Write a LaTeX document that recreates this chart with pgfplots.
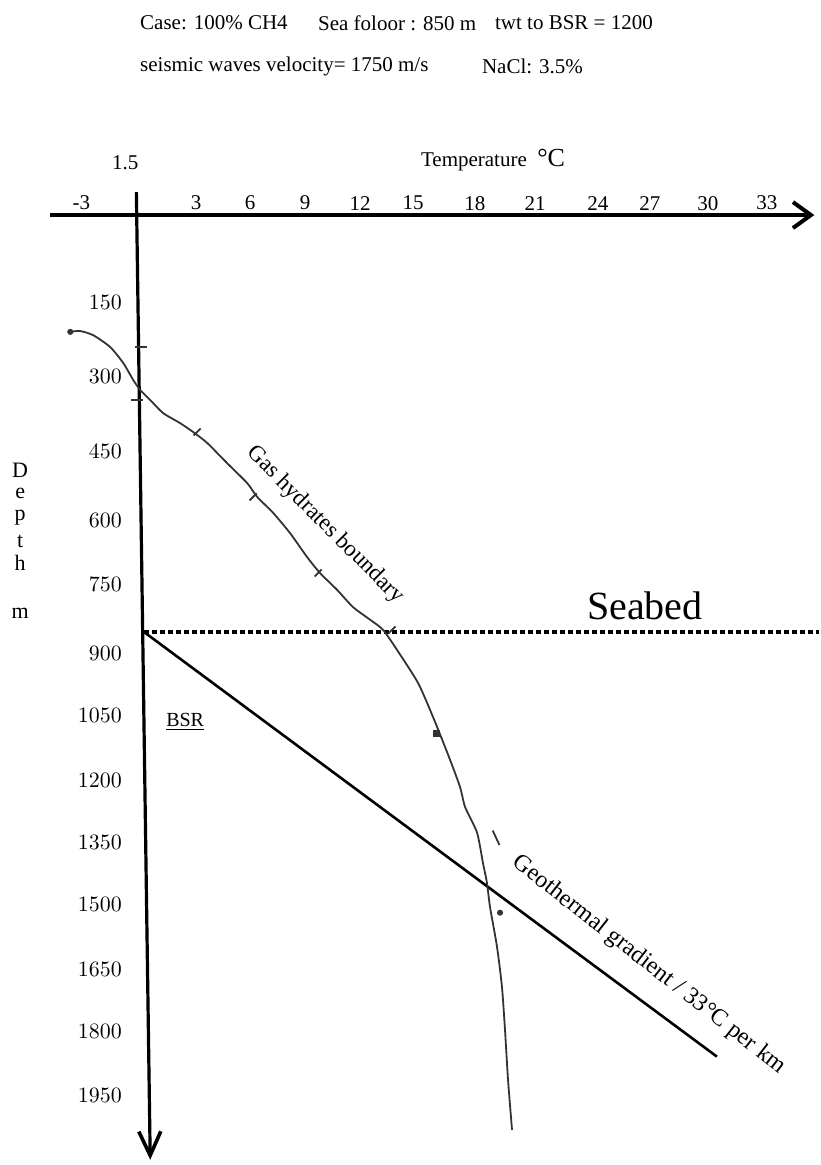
\documentclass[border=0pt]{standalone}
\usepackage{fontspec}
\setmainfont{Liberation Serif}
\usepackage{pgfplots}
\pgfplotsset{compat=1.18}
\usetikzlibrary{arrows.meta}

\begin{document}
\begin{tikzpicture}
\begin{axis}[
  scale only axis, width=409.5pt, height=582.5pt,
  xmin=-7.37, xmax=35.74, ymin=-653, ymax=2114, y dir=reverse,
  axis line style={draw=none},
  major tick length=0pt,
  xtick={-3.1,2.95,5.79,8.68,11.58,14.37,17.63,20.79,24.1,26.84,29.89,33},
  xticklabels={-3,3,6,9,12,15,18,21,24,27,30,33},
  xticklabel style={anchor=center, yshift=481pt, font=\fontsize{10.5}{12}\selectfont},
  ytick={64,242,420,582,736,900,1047,1200,1347,1496,1651,1798,1950},
  yticklabels={$150$,$300$,$450$,$600$,$750$,$900$,$1050$,$1200$,$1350$,$1500$,$1650$,$1800$,$1950$},
  yticklabel style={anchor=east, inner sep=0pt, xshift=61pt, font=\fontsize{10.5}{12}\selectfont},
  clip=false,
]
% axes drawn as arrows
\addplot[line width=2pt, -{Straight Barb[length=9pt,width=13pt,line width=2pt]}] coordinates {(-4.74,-142.5) (35.5,-142.5)};
\addplot[line width=1.6pt, -{Straight Barb[length=12pt,width=11pt,line width=1.8pt]}] coordinates {(-0.2,-197) (0.53,2102)};
% seabed
\addplot[line width=1.6pt, dash pattern=on 2.5pt off 1.5pt] coordinates {(0.2,848) (35.74,848)};
% geothermal gradient
\addplot[line width=1.3pt] coordinates {(0.2,848) (30.37,1857)};
% gas hydrates boundary
\addplot[line width=0.9pt, color=black!80, smooth, tension=0.4] table {
-3.68 135
-3.16 133
-2.47 143
-1.58 171
-0.89 209
-0.37 249
0 273
0.53 297
1.21 328
2.11 352
2.79 373
3.53 399
4.58 447
5.63 494
6.16 527
7.0 565
7.89 613
8.79 670
9.47 708
10.37 748
11.21 789
12.11 819
12.79 843
13.53 891
14.63 969
15.42 1050
16.26 1145
16.84 1216
17.11 1264
17.74 1325
18.05 1397
18.26 1444
18.42 1501
18.79 1596
19.05 1691
19.21 1793
19.37 1912
19.58 2031
};
% small marks
\addplot[only marks, mark=-, mark size=3pt, mark options={line width=0.9pt, black!80}] coordinates {(0.05,171) (-0.16,297)};
\addplot[only marks, mark=|, mark size=2.5pt, mark options={line width=0.9pt, black!80, rotate=-45}] coordinates {(3.0,373) (5.95,527) (9.37,708) (13.26,843)};
\addplot[only marks, mark=square*, mark size=1.5pt, mark options={black!80}] coordinates {(15.58,1088)};
\addplot[only marks, mark=|, mark size=4pt, mark options={line width=0.9pt, black!80, rotate=25}] coordinates {(18.74,1337)};
\addplot[only marks, mark=*, mark size=1.3pt, mark options={black!80}] coordinates {(18.95,1515) (-3.68,135)};

% texts
\node[anchor=west, font=\fontsize{10.5}{12}\selectfont] at (axis cs:-0.37,-599) {Case: 100\% CH4};
\node[anchor=west, font=\fontsize{10.5}{12}\selectfont] at (axis cs:9.0,-599) {Sea foloor : 850 m};
\node[anchor=west, font=\fontsize{10.5}{12}\selectfont] at (axis cs:18.32,-599) {twt to BSR = 1200};
\node[anchor=west, font=\fontsize{10.5}{12}\selectfont] at (axis cs:-0.37,-496) {seismic waves velocity= 1750 m/s};
\node[anchor=west, font=\fontsize{10.5}{12}\selectfont] at (axis cs:17.63,-496) {NaCl: 3.5\%};
\node[font=\fontsize{10.5}{12}\selectfont] at (axis cs:-0.79,-266) {1.5};
\node[anchor=west, font=\fontsize{10.5}{12}\selectfont] at (axis cs:14.42,-273) {Temperature\ \ {\fontsize{13}{14}\selectfont °C}};
\node[font=\fontsize{10}{12}\selectfont] at (axis cs:2.37,1062) {\underline{BSR}};
\node[font=\fontsize{20}{22}\selectfont] at (axis cs:26.58,786) {Seabed};
\node[anchor=base, font=\fontsize{11}{12}\selectfont] at (axis cs:-6.32,480) {D};
\node[anchor=base, font=\fontsize{11}{12}\selectfont] at (axis cs:-6.32,530) {e};
\node[anchor=base, font=\fontsize{11}{12}\selectfont] at (axis cs:-6.32,584) {p};
\node[anchor=base, font=\fontsize{11}{12}\selectfont] at (axis cs:-6.32,648) {t};
\node[anchor=base, font=\fontsize{11}{12}\selectfont] at (axis cs:-6.32,701) {h};
\node[anchor=base, font=\fontsize{11}{12}\selectfont] at (axis cs:-6.32,815) {m};
\node[rotate=-45, font=\fontsize{11.5}{12}\selectfont] at (axis cs:9.74,594) {Gas hydrates boundary};
\node[rotate=-38, font=\fontsize{12}{13}\selectfont] at (axis cs:26.79,1639) {Geothermal gradient / 33°C per km};
\end{axis}
\end{tikzpicture}
\end{document}
